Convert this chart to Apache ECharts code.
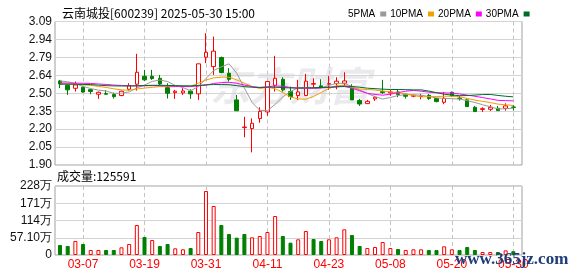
<!DOCTYPE html>
<html><head><meta charset="utf-8">
<script src="https://cdn.jsdelivr.net/npm/echarts@6/dist/echarts.min.js"></script>
<style>html,body{margin:0;padding:0;background:#fff}#c{width:578px;height:276px}</style>
</head><body><div id="c"></div>
<script>
const titleText = '云南城投[600239] 2025-05-30 15:00';
const dates = ['03-04','03-05','03-06','03-07','03-10','03-11','03-12','03-13','03-14','03-17','03-18','03-19','03-20','03-21','03-24','03-25','03-26','03-27','03-28','03-31','04-01','04-02','04-03','04-07','04-08','04-09','04-10','04-11','04-14','04-15','04-16','04-17','04-18','04-21','04-22','04-23','04-24','04-25','04-28','04-29','04-30','05-06','05-07','05-08','05-09','05-12','05-13','05-14','05-15','05-16','05-19','05-20','05-21','05-22','05-23','05-26','05-27','05-28','05-29','05-30'];
const opens  = [2.597,2.561,2.536,2.545,2.525,2.487,2.492,2.484,2.476,2.528,2.570,2.636,2.636,2.619,2.542,2.500,2.498,2.512,2.490,2.794,2.716,2.791,2.661,2.440,2.210,2.202,2.285,2.340,2.561,2.611,2.509,2.476,2.476,2.570,2.556,2.570,2.575,2.578,2.537,2.434,2.409,2.448,2.510,2.498,2.506,2.487,2.470,2.468,2.478,2.451,2.420,2.503,2.455,2.440,2.379,2.361,2.362,2.370,2.370,2.381];
const closes = [2.572,2.523,2.564,2.505,2.510,2.503,2.487,2.467,2.512,2.559,2.669,2.606,2.617,2.572,2.495,2.512,2.514,2.490,2.739,2.835,2.844,2.667,2.611,2.350,2.215,2.246,2.345,2.592,2.619,2.523,2.467,2.506,2.595,2.575,2.547,2.575,2.595,2.597,2.440,2.406,2.428,2.462,2.500,2.506,2.484,2.470,2.477,2.472,2.451,2.426,2.453,2.473,2.450,2.384,2.343,2.367,2.379,2.351,2.390,2.378];
const lows   = [2.537,2.481,2.509,2.500,2.487,2.448,2.484,2.451,2.470,2.517,2.517,2.597,2.606,2.564,2.451,2.448,2.481,2.448,2.440,2.745,2.647,2.661,2.592,2.350,2.130,2.005,2.251,2.309,2.509,2.509,2.440,2.440,2.476,2.537,2.545,2.523,2.528,2.556,2.440,2.390,2.406,2.431,2.490,2.473,2.462,2.451,2.462,2.445,2.440,2.420,2.404,2.467,2.434,2.384,2.343,2.340,2.348,2.351,2.351,2.351];
const highs  = [2.606,2.570,2.592,2.553,2.531,2.509,2.520,2.500,2.517,2.578,2.822,2.689,2.689,2.647,2.578,2.523,2.537,2.528,2.739,2.993,2.965,2.799,2.703,2.481,2.300,2.287,2.379,2.597,2.805,2.628,2.550,2.606,2.656,2.619,2.611,2.639,2.628,2.669,2.570,2.448,2.440,2.473,2.606,2.523,2.523,2.492,2.484,2.490,2.489,2.456,2.506,2.509,2.473,2.451,2.390,2.379,2.398,2.390,2.412,2.398];
const volumes = [331000,298000,463000,364000,166000,166000,166000,166000,254000,364000,993000,596000,497000,298000,364000,221000,188000,232000,761000,2118000,1622000,993000,695000,574000,695000,585000,629000,761000,1291000,629000,408000,519000,794000,530000,463000,519000,585000,850000,662000,298000,232000,265000,430000,232000,199000,166000,188000,188000,166000,166000,287000,188000,166000,265000,166000,99000,99000,99000,154000,125591];
const volUp = [0,0,1,0,1,1,0,0,1,1,1,0,1,0,0,1,1,0,1,1,1,0,0,0,0,1,1,1,1,0,0,1,1,0,0,1,1,1,0,0,1,1,1,1,0,1,1,1,0,0,1,1,0,0,0,1,1,0,1,0];
const ma5  = [2.597,2.590,2.575,2.552,2.534,2.521,2.514,2.494,2.496,2.506,2.539,2.563,2.593,2.605,2.592,2.560,2.542,2.517,2.549,2.617,2.684,2.714,2.739,2.662,2.538,2.418,2.354,2.350,2.403,2.465,2.509,2.541,2.542,2.533,2.538,2.560,2.577,2.578,2.551,2.523,2.493,2.467,2.447,2.460,2.476,2.484,2.482,2.479,2.468,2.457,2.452,2.450,2.447,2.434,2.418,2.400,2.383,2.365,2.366,2.371];
const ma10 = [2.575,2.573,2.570,2.565,2.560,2.552,2.543,2.532,2.523,2.520,2.530,2.538,2.544,2.550,2.549,2.550,2.552,2.555,2.577,2.605,2.622,2.628,2.628,2.606,2.578,2.551,2.534,2.544,2.533,2.501,2.464,2.448,2.446,2.468,2.502,2.534,2.559,2.560,2.542,2.530,2.526,2.522,2.513,2.506,2.499,2.489,2.477,2.465,2.466,2.468,2.470,2.471,2.466,2.452,2.438,2.428,2.418,2.405,2.399,2.394];
const ma20 = [2.580,2.580,2.579,2.578,2.576,2.572,2.568,2.563,2.560,2.557,2.556,2.557,2.558,2.557,2.555,2.552,2.551,2.550,2.556,2.562,2.576,2.583,2.586,2.578,2.563,2.550,2.543,2.549,2.555,2.553,2.543,2.538,2.537,2.537,2.540,2.543,2.547,2.552,2.537,2.516,2.495,2.485,2.479,2.487,2.500,2.512,2.518,2.512,2.504,2.499,2.498,2.497,2.489,2.480,2.470,2.459,2.448,2.436,2.434,2.432];
const ma30 = [2.570,2.570,2.569,2.568,2.567,2.562,2.558,2.556,2.555,2.555,2.557,2.559,2.561,2.561,2.560,2.558,2.557,2.556,2.560,2.565,2.567,2.567,2.566,2.558,2.550,2.545,2.543,2.545,2.545,2.542,2.539,2.538,2.539,2.541,2.543,2.545,2.549,2.553,2.551,2.545,2.537,2.533,2.529,2.526,2.526,2.525,2.523,2.523,2.513,2.500,2.487,2.480,2.475,2.476,2.480,2.484,2.485,2.477,2.470,2.465];
const priceTicks = ['1.90','2.05','2.20','2.35','2.50','2.64','2.79','2.94','3.09'];
const volTicks = ['0','57.10万','114万','171万','228万'];
const xLabelIdx = [3,11,19,27,35,43,51,59];
const maNames = ['5PMA','10PMA','20PMA','30PMA'];

const RED = '#ff0000', GREEN = '#008000';
const maColors = ['#9a9a9a','#f0a000','#ff00ff','#006b2b'];
const idx = dates.map((d, i) => i);
const pMin = 1.90, pMax = 3.09, pStep = (pMax - pMin) / 8;
const vMax = 2284000, vStep = vMax / 4;
const labelFont = {fontFamily: '"Liberation Sans", Arial, sans-serif', fontSize: 12, color: '#111'};

function xAxisCfg(grid, showLabel) {
  return {
    type: 'value', gridIndex: grid, min: -0.65, max: 60.13,
    axisLine: {show: false},
    axisTick: {show: false, customValues: xLabelIdx},
    axisLabel: Object.assign({show: showLabel, customValues: xLabelIdx, formatter: v => dates[Math.round(v)] || '', margin: 4}, labelFont, {color: RED}),
    splitLine: {show: true, lineStyle: {color: '#c4c4c4', type: [4, 3], width: 1}}
  };
}

const series = [{
  type: 'candlestick', xAxisIndex: 0, yAxisIndex: 0, barWidth: 4, z: 2,
  encode: {x: 0, y: [1, 2, 3, 4]},
  itemStyle: {color: '#ffffff', color0: GREEN, borderColor: RED, borderColor0: GREEN, borderWidth: 1},
  data: idx.map(i => [i, opens[i], closes[i], lows[i], highs[i]])
}];
[ma5, ma10, ma20, ma30].forEach((arr, k) => {
  series.push({
    type: 'line', name: maNames[k], xAxisIndex: 0, yAxisIndex: 0, symbol: 'none', z: 3,
    lineStyle: {color: maColors[k], width: 1}, itemStyle: {color: maColors[k]},
    data: idx.map(i => [i, arr[i]])
  });
});
series.push({
  type: 'bar', xAxisIndex: 1, yAxisIndex: 1, barWidth: 4,
  data: idx.map(i => ({
    value: [i, volumes[i]],
    itemStyle: volUp[i] ? {color: '#ffffff', borderColor: RED, borderWidth: 1} : {color: GREEN, borderColor: GREEN, borderWidth: 1}
  }))
});

const chart = echarts.init(document.getElementById('c'), null, {renderer: 'canvas'});
chart.setOption({
  animation: false,
  backgroundColor: '#ffffff',
  title: {text: titleText, left: 57, top: 2, textStyle: {fontSize: 12, fontWeight: 'normal', color: '#000', fontFamily: '"Noto Sans CJK SC", sans-serif'}},
  legend: {left: 343, top: 4, align: 'right', icon: 'rect', itemWidth: 6, itemHeight: 5, itemGap: 4, selectedMode: false,
    textStyle: {fontSize: 10, color: '#000', fontFamily: '"Liberation Sans", Arial, sans-serif'}, data: maNames},
  grid: [
    {left: 55, top: 21.5, width: 467, height: 143.5, show: true, borderColor: '#a0a0a0', borderWidth: 1},
    {left: 55, top: 186, width: 467, height: 69, show: true, borderColor: '#a0a0a0', borderWidth: 1}
  ],
  xAxis: [xAxisCfg(0, false), xAxisCfg(1, true)],
  yAxis: [
    {type: 'value', gridIndex: 0, min: pMin, max: pMax, interval: pStep,
     axisLine: {show: false}, axisTick: {show: false},
     axisLabel: Object.assign({margin: 3, formatter: v => priceTicks[Math.round((v - pMin) / pStep)]}, labelFont),
     splitLine: {lineStyle: {color: '#d4d4d4', width: 1}}},
    {type: 'value', gridIndex: 1, min: 0, max: vMax, interval: vStep,
     axisLine: {show: false}, axisTick: {show: false},
     axisLabel: Object.assign({margin: 3, formatter: v => volTicks[Math.round(v / vStep)]}, labelFont),
     splitLine: {lineStyle: {color: '#d4d4d4', width: 1}}}
  ],
  graphic: [
    {type: 'text', left: 210, top: 66, z: 0, silent: true,
     style: {text: '东方财富', font: 'italic bold 40px "Noto Sans CJK SC", sans-serif', fill: 'rgba(195,195,205,0.35)'}},
    {type: 'text', left: 57, top: 170, style: {text: '成交量:' + volumes[volumes.length - 1], font: '12px "Noto Sans CJK SC", sans-serif', fill: '#000'}},
    {type: 'text', left: 455, top: 251, z: 100, style: {text: 'www.365jz.com', font: 'bold 17px "Liberation Serif", serif', fill: '#1f3d7a'}}
  ],
  series: series
});
</script>
</body></html>
